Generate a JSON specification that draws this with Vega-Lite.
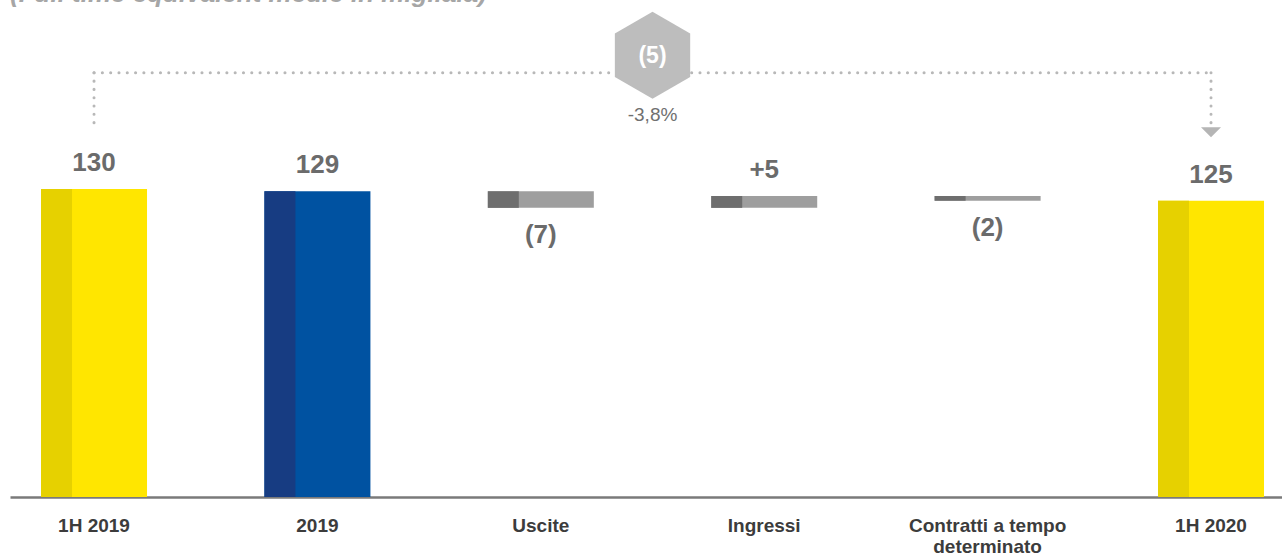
{
  "$schema": "https://vega.github.io/schema/vega-lite/v6.json",
  "width": 1272,
  "height": 474,
  "autosize": "none",
  "padding": {"left": 10, "top": 23, "right": 0, "bottom": 57},
  "background": "white",
  "config": {"view": {"stroke": null}, "font": "Liberation Sans"},
  "title": {
    "text": "(Full time equivalent medie in migliaia)",
    "anchor": "start",
    "frame": "group",
    "baseline": "alphabetic",
    "offset": -16,
    "fontSize": 26,
    "fontWeight": "bold",
    "fontStyle": "italic",
    "color": "#a6a6a6",
    "font": "Liberation Sans"
  },
  "datasets": {
    "bars": [
      {"cat": "1H 2019", "start": 0, "end": 130, "label": "130", "kind": "h1"},
      {"cat": "2019", "start": 0, "end": 129, "label": "129", "kind": "fy"},
      {"cat": "Uscite", "start": 129, "end": 122, "label": "(7)", "kind": "delta"},
      {"cat": "Ingressi", "start": 122, "end": 127, "label": "+5", "kind": "delta"},
      {"cat": "Contratti a tempo determinato", "start": 127, "end": 125, "label": "(2)", "kind": "delta"},
      {"cat": "1H 2020", "start": 0, "end": 125, "label": "125", "kind": "h1"}
    ],
    "bracket": [{"cat": "1H 2019", "cat2": "1H 2020"}],
    "ends": [{"cat": "1H 2019"}, {"cat": "1H 2020"}],
    "target": [{"cat": "1H 2020"}],
    "change": [{"cat": "Uscite", "delta": "(5)", "pct": "-3,8%"}]
  },
  "encoding": {
    "x": {
      "field": "cat",
      "type": "nominal",
      "scale": {
        "domain": ["1H 2019", "2019", "Uscite", "Ingressi", "Contratti a tempo determinato", "1H 2020"],
        "paddingInner": 0.5255,
        "paddingOuter": 0.1097,
        "align": 0.633,
        "round": false
      },
      "axis": {
        "title": null,
        "ticks": false,
        "tickSize": 0,
        "domainColor": "#7a7a7a",
        "domainWidth": 2.5,
        "labelAngle": 0,
        "labelFont": "Liberation Sans",
        "labelFontSize": 19,
        "labelFontWeight": "bold",
        "labelColor": "#3c3c3c",
        "labelBaseline": "alphabetic",
        "labelPadding": 34,
        "labelLineHeight": 21,
        "labelLimit": 300,
        "labelExpr": "datum.value == 'Contratti a tempo determinato' ? ['Contratti a tempo', 'determinato'] : datum.value"
      }
    }
  },
  "layer": [
    {
      "data": {"name": "bars"},
      "mark": {"type": "bar"},
      "encoding": {
        "y": {"field": "start", "type": "quantitative", "scale": {"domain": [0, 200]}, "axis": null},
        "y2": {"field": "end"},
        "color": {
          "field": "kind",
          "type": "nominal",
          "scale": {"domain": ["h1", "fy", "delta"], "range": ["#FFE600", "#0052A1", "#9E9E9E"]},
          "legend": null
        }
      }
    },
    {
      "data": {"name": "bars"},
      "mark": {"type": "bar", "width": {"band": 0.2925}, "xOffset": -37.5},
      "encoding": {
        "y": {"field": "start", "type": "quantitative"},
        "y2": {"field": "end"},
        "color": {
          "field": "kind",
          "type": "nominal",
          "scale": {"domain": ["h1", "fy", "delta"], "range": ["#E6D100", "#173C82", "#6E6E6E"]},
          "legend": null
        }
      }
    },
    {
      "data": {"name": "bars"},
      "transform": [{"filter": "datum.end >= datum.start"}],
      "mark": {"type": "text", "baseline": "alphabetic", "dy": -18, "fontSize": 26, "fontWeight": "bold", "color": "#6b6b6b", "font": "Liberation Sans"},
      "encoding": {
        "y": {"field": "end", "type": "quantitative"},
        "text": {"field": "label"}
      }
    },
    {
      "data": {"name": "bars"},
      "transform": [{"filter": "datum.end < datum.start"}],
      "mark": {"type": "text", "baseline": "alphabetic", "dy": 35, "fontSize": 26, "fontWeight": "bold", "color": "#6b6b6b", "font": "Liberation Sans"},
      "encoding": {
        "y": {"field": "end", "type": "quantitative"},
        "text": {"field": "label"}
      }
    },
    {
      "data": {"name": "bracket"},
      "mark": {"type": "rule", "color": "#b8b8b8", "strokeWidth": 3, "strokeCap": "round", "strokeDash": [0.1, 8.2]},
      "encoding": {
        "x2": {"field": "cat2"},
        "y": {"datum": 179, "type": "quantitative"}
      }
    },
    {
      "data": {"name": "ends"},
      "mark": {"type": "rule", "color": "#b8b8b8", "strokeWidth": 3, "strokeCap": "round", "strokeDash": [0.1, 8.2]},
      "encoding": {
        "y": {"datum": 179, "type": "quantitative"},
        "y2": {"datum": 156}
      }
    },
    {
      "data": {"name": "target"},
      "mark": {"type": "point", "shape": "M-1,-0.5L1,-0.5L0,0.5Z", "size": 400, "filled": true, "color": "#b5b5b5", "opacity": 1, "strokeWidth": 0},
      "encoding": {
        "y": {"datum": 153.9, "type": "quantitative"}
      }
    },
    {
      "data": {"name": "change"},
      "mark": {"type": "point", "shape": "M0,-1L0.866,-0.5L0.866,0.5L0,1L-0.866,0.5L-0.866,-0.5Z", "size": 7569, "filled": true, "color": "#bdbdbd", "opacity": 1, "strokeWidth": 0, "xOffset": 111.7},
      "encoding": {
        "y": {"datum": 186.4, "type": "quantitative"}
      }
    },
    {
      "data": {"name": "change"},
      "mark": {"type": "text", "baseline": "middle", "fontSize": 23, "fontWeight": "bold", "color": "white", "xOffset": 111.7, "font": "Liberation Sans"},
      "encoding": {
        "y": {"datum": 186.2, "type": "quantitative"},
        "text": {"field": "delta"}
      }
    },
    {
      "data": {"name": "change"},
      "mark": {"type": "text", "baseline": "middle", "fontSize": 19, "color": "#707070", "xOffset": 111.7, "font": "Liberation Sans"},
      "encoding": {
        "y": {"datum": 161.2, "type": "quantitative"},
        "text": {"field": "pct"}
      }
    }
  ],
  "resolve": {"scale": {"color": "independent"}}
}
